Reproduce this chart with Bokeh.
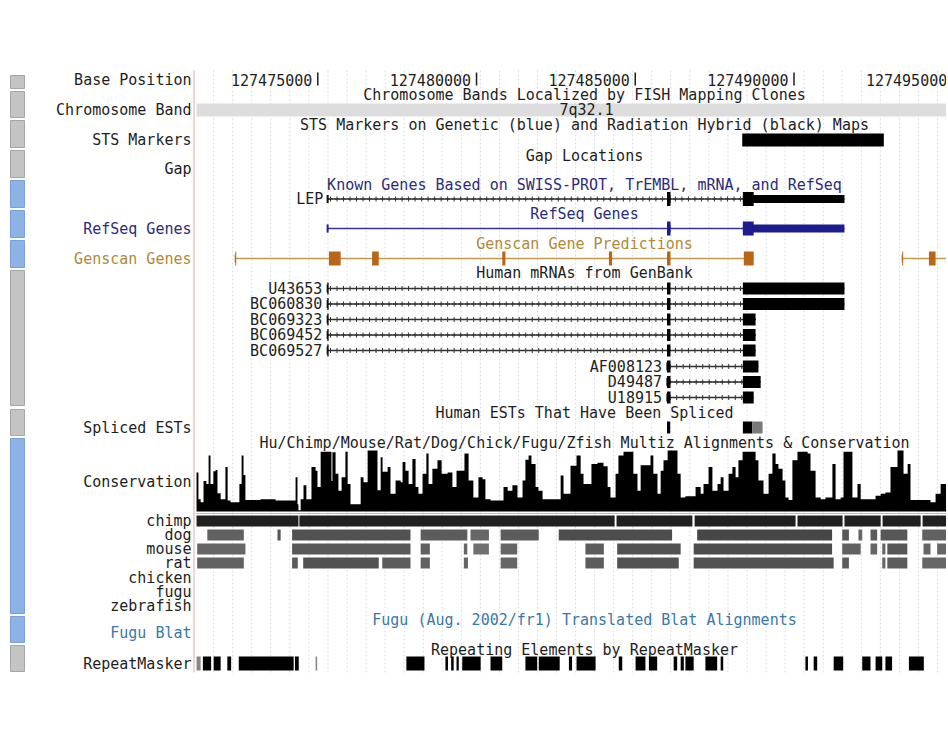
import numpy as np
from bokeh.plotting import figure
from bokeh.models import Range1d
from bokeh.core.properties import value
from bokeh.embed import file_html
from bokeh.resources import INLINE

# ------------------------------------------------------------------ data (chr7, bp)
BASE_TICKS = [127475000, 127480000, 127485000, 127490000, 127495000]
BAND_NAME = "7q32.1"
BAND_START, BAND_END = 127440000, 127500000
STS_STARTS = [127488370]
STS_ENDS = [127492830]

LEP_EXON_STARTS = [127475300, 127486000, 127488390]
LEP_EXON_ENDS = [127475340, 127486110, 127491590]
LEP_CDS = [127486000, 127488730]

REFSEQ_EXON_STARTS = [127475300, 127486000, 127488390]
REFSEQ_EXON_ENDS = [127475340, 127486110, 127491590]
REFSEQ_CDS = [127486000, 127488730]

GENSCAN1_STARTS = [127472400, 127475350, 127476710, 127480810, 127484170, 127486000, 127488420]
GENSCAN1_ENDS = [127472430, 127475720, 127476920, 127480910, 127484270, 127486110, 127488730]
GENSCAN2_STARTS = [127493410, 127494250]
GENSCAN2_ENDS = [127493440, 127494460]
GENSCAN2_TX_END = 127496500

MRNA_NAMES = ["U43653", "BC060830", "BC069323", "BC069452", "BC069527",
              "AF008123", "D49487", "U18915"]
MRNA_STARTS = [
    [127475300, 127486000, 127488390],
    [127475300, 127486000, 127488390],
    [127475300, 127486000, 127488390],
    [127475300, 127486000, 127488390],
    [127475300, 127486000, 127488390],
    [127486000, 127488390],
    [127486000, 127488390],
    [127486000, 127488390],
]
MRNA_ENDS = [
    [127475340, 127486110, 127491590],
    [127475340, 127486110, 127491590],
    [127475340, 127486110, 127488790],
    [127475340, 127486110, 127488790],
    [127475340, 127486110, 127488790],
    [127486110, 127488880],
    [127486110, 127488950],
    [127486110, 127488730],
]

EST_STARTS = [127486000, 127488390, 127488690]
EST_ENDS = [127486100, 127488690, 127489010]
EST_SHADE = ["#000000", "#000000", "#7a7a7a"]

# conservation (variable-step, score 0..1)
CONS_POS = [
    127471180, 127471240, 127471310, 127471400, 127471490, 127471560, 127471620, 127471710,
    127471780, 127471840, 127471940, 127472090, 127472160, 127472250, 127472530, 127472600,
    127472660, 127472720, 127473200, 127473670, 127474300, 127474360, 127474390, 127474460,
    127474550, 127474640, 127474800, 127474930, 127474990, 127475090, 127475430, 127475460,
    127475560, 127475650, 127475750, 127475870, 127475940, 127476030, 127476350, 127476440,
    127476570, 127476880, 127476980, 127477040, 127477200, 127477290, 127477450, 127477610,
    127477670, 127477760, 127477860, 127477980, 127478080, 127478170, 127478300, 127478420,
    127478490, 127478610, 127478770, 127478900, 127479090, 127479240, 127479370, 127479620,
    127479750, 127479900, 127480060, 127480190, 127480280, 127480440, 127480850, 127480980,
    127481130, 127481290, 127481450, 127481540, 127481640, 127481730, 127481860, 127481950,
    127482080, 127482650, 127482740, 127482960, 127483150, 127483280, 127483370, 127483620,
    127483810, 127484000, 127484130, 127484220, 127484380, 127484470, 127484630, 127484940,
    127485070, 127485170, 127485480, 127485570, 127485700, 127485800, 127485890, 127486020,
    127486330, 127486430, 127486580, 127486900, 127487060, 127487150, 127487310, 127487430,
    127487590, 127487690, 127487780, 127487940, 127488060, 127488160, 127488250, 127488380,
    127488790, 127488880, 127489040, 127489200, 127489320, 127489420, 127489510, 127489640,
    127489730, 127489830, 127489950, 127490110, 127490430, 127490520, 127490680, 127490840,
    127490990, 127491210, 127491310, 127491470, 127491560, 127491840, 127492000, 127492100,
    127492570, 127492730, 127492880, 127493040, 127493260, 127493450, 127493580, 127493670,
    127494300, 127494460, 127494620,
]
CONS_SCORE = [
    0.64, 0.20, 0.15, 0.50, 0.45, 0.92, 0.45, 0.66,
    0.68, 0.30, 0.20, 0.73, 0.18, 0.15, 0.45, 0.92,
    0.60, 0.19, 0.20, 0.18, 0.56, 0.12, 0.02, 0.20,
    0.43, 0.20, 0.73, 0.67, 0.40, 0.98, 0.50, 0.97,
    0.62, 0.34, 0.56, 0.98, 0.45, 0.12, 0.56, 0.48,
    1.00, 0.35, 0.89, 0.65, 0.73, 0.29, 0.51, 0.48,
    0.81, 0.67, 0.45, 0.86, 0.40, 0.29, 0.62, 0.95,
    0.45, 0.70, 0.84, 0.62, 0.64, 0.40, 0.67, 0.95,
    0.51, 0.23, 0.56, 0.53, 0.20, 0.18, 0.40, 0.34,
    0.43, 0.23, 0.51, 0.85, 0.92, 0.78, 0.40, 0.34,
    0.20, 0.59, 0.29, 0.75, 0.92, 0.62, 0.45, 0.78,
    0.80, 0.74, 0.40, 0.23, 0.62, 0.92, 0.98, 0.62,
    0.34, 0.76, 0.92, 0.62, 0.29, 0.67, 0.84, 1.00,
    0.62, 0.23, 0.25, 0.40, 0.29, 0.45, 0.73, 0.34,
    0.45, 0.56, 0.34, 0.62, 0.73, 0.56, 0.84, 0.98,
    0.84, 0.51, 0.29, 0.62, 0.95, 0.78, 0.70, 0.51,
    0.23, 0.19, 0.84, 0.98, 0.95, 0.67, 0.23, 0.20,
    0.23, 0.78, 0.20, 0.23, 0.98, 0.23, 0.45, 0.20,
    0.26, 0.29, 0.31, 0.73, 1.00, 0.62, 0.78, 0.19,
    0.15, 0.29, 0.45,
]
CONS_END = 127494870

CHIMP_STARTS = [127471180, 127474420, 127484410, 127486870, 127490110, 127491590, 127492790, 127494050]
CHIMP_ENDS = [127474390, 127484350, 127486800, 127490050, 127491530, 127492730, 127493990, 127495000]

DOG_STARTS = [127471520, 127473730, 127474190, 127478240, 127479810, 127480760, 127482590,
              127486950, 127491520, 127492030, 127492410, 127492730, 127494040]
DOG_ENDS = [127472670, 127473830, 127477920, 127479710, 127480390, 127481960, 127486160,
            127491200, 127491730, 127492150, 127492620, 127493570, 127495000]
DOG_SHADE = [0.62, 0.66, 0.68, 0.64, 0.60, 0.64, 0.70, 0.72, 0.66, 0.60, 0.64, 0.66, 0.62]

MOUSE_STARTS = [127471200, 127474190, 127478240, 127479600, 127479900, 127480760, 127483430,
                127484430, 127486840, 127491520, 127492410, 127492780, 127492940, 127494080, 127494510]
MOUSE_ENDS = [127472720, 127477920, 127478530, 127479710, 127480390, 127481280, 127484010,
              127486430, 127491200, 127492100, 127492620, 127492880, 127493570, 127494300, 127495000]
MOUSE_SHADE = [0.60, 0.65, 0.62, 0.60, 0.56, 0.60, 0.64, 0.68, 0.70, 0.62, 0.60, 0.60, 0.66, 0.60, 0.60]

RAT_STARTS = [127471200, 127474190, 127474540, 127477030, 127478240, 127479600, 127480760,
              127483430, 127484430, 127486840, 127491520, 127492780, 127492940, 127494040]
RAT_ENDS = [127472670, 127474370, 127476920, 127477920, 127478530, 127479730, 127481280,
            127484010, 127486370, 127491250, 127491730, 127492880, 127493570, 127495000]
RAT_SHADE = [0.62, 0.64, 0.68, 0.64, 0.62, 0.60, 0.60, 0.64, 0.68, 0.68, 0.64, 0.60, 0.64, 0.60]

RMSK_STARTS = [127471180, 127471380, 127471720, 127472150, 127472510, 127474280, 127474930,
               127477790, 127479020, 127479200, 127479370, 127479550, 127480440, 127481540,
               127481960, 127482910, 127483150, 127484480, 127485010, 127485430, 127486210,
               127486430, 127486580, 127487210, 127487690, 127490360, 127490620, 127491250,
               127492150, 127492570, 127492880, 127493620]
RMSK_ENDS = [127471310, 127471640, 127471940, 127472270, 127474240, 127474400, 127474980,
             127478360, 127479100, 127479280, 127479440, 127480130, 127480810, 127481910,
             127482620, 127483010, 127483750, 127484590, 127485320, 127485690, 127486320,
             127486530, 127486840, 127487580, 127487770, 127490440, 127490730, 127491550,
             127492410, 127492780, 127493090, 127494090]
RMSK_GRAY = [127471180, 127474930]

TRACK_LABELS = ["Base Position", "Chromosome Band", "STS Markers", "Gap", "RefSeq Genes",
                "Genscan Genes", "Spliced ESTs", "Conservation", "Fugu Blat", "RepeatMasker"]
SPECIES = ["chimp", "dog", "mouse", "rat", "chicken", "fugu", "zebrafish"]
TITLES = [
    "Chromosome Bands Localized by FISH Mapping Clones",
    "STS Markers on Genetic (blue) and Radiation Hybrid (black) Maps",
    "Gap Locations",
    "Known Genes Based on SWISS-PROT, TrEMBL, mRNA, and RefSeq",
    "RefSeq Genes",
    "Genscan Gene Predictions",
    "Human mRNAs from GenBank",
    "Human ESTs That Have Been Spliced",
    "Hu/Chimp/Mouse/Rat/Dog/Chick/Fugu/Zfish Multiz Alignments & Conservation",
    "Fugu (Aug. 2002/fr1) Translated Blat Alignments",
    "Repeating Elements by RepeatMasker",
]

# ------------------------------------------------------------------ layout (page pixels)
W, H = 946, 740
BP_PER_PX = 31.5
ORIGIN = 127475000 - 317.3 * BP_PER_PX


def gx(px):
    return ORIGIN + px * BP_PER_PX


DATA_LEFT = gx(196)
TXT = "#1e1e1e"
NAVY = "#2c2c7c"
GOLD = "#b08a36"
STEEL = "#3a78a8"
FONT = value("DejaVu Sans Mono")
FS = "15px"

TICK_Y = 79
TITLE_Y = [94, 124, 155, 184, 213.5, 243, 272.5, 412, 442, 619, 649]
TITLE_COL = [TXT, TXT, TXT, NAVY, NAVY, GOLD, TXT, TXT, TXT, STEEL, TXT]
LABEL_Y = [79, 109.5, 139.5, 168, 228, 258, 427, 481.5, 632.5, 663]
LABEL_COL = [TXT, TXT, TXT, TXT, NAVY, GOLD, TXT, TXT, STEEL, TXT]
SPECIES_Y = [520.5, 534.5, 548.5, 562.5, 577, 591, 605]
LEP_Y, REFSEQ_Y, GENSCAN_Y = 198.5, 228, 258
MRNA_Y = [288, 303.5, 319, 334.5, 350, 366, 381.5, 397]
EST_Y = 427
CONS_BASE, CONS_H = 511, 61
BUTTONS = [(75, 88, "g"), (91, 117, "g"), (120, 147, "g"), (150, 177, "g"), (180, 207, "b"),
           (210, 237, "b"), (240, 267, "b"), (270, 405, "g"), (409, 435, "g"), (438, 613, "b"),
           (616, 642, "b"), (645, 671, "g")]

p = figure(width=W, height=H, output_backend="svg", toolbar_location=None,
           x_range=Range1d(gx(0), gx(W)), y_range=Range1d(H, 0),
           x_axis_location=None, y_axis_location=None, min_border=0,
           outline_line_color=None, background_fill_color="white",
           border_fill_color="white")
p.grid.visible = False
p.extra_y_ranges = {"cons": Range1d((CONS_BASE - H) / CONS_H, CONS_BASE / CONS_H)}


def text(x, y, s, align="center", color=TXT, size=FS):
    p.text(x=[x], y=[y], text=[s], text_align=align, text_baseline="middle",
           text_font=FONT, text_font_size=size, text_color=color)


# guidelines + left border
gl = np.arange(127471720, 127496000, 600)
p.segment(x0=gl, y0=70, x1=gl, y1=672, line_color="#dadce6", line_width=1, line_dash="2 2")
p.segment(x0=[gx(193.5)], y0=[70], x1=[gx(193.5)], y1=[672], line_color="#e2aaaa", line_width=1)

# side buttons
for y0, y1, c in BUTTONS:
    p.quad(left=gx(10), right=gx(24), bottom=y1, top=y0,
           fill_color="#c4c4c4" if c == "g" else "#8db2e6",
           line_color="#a6a6a6" if c == "g" else "#7a9fd6", line_width=1)

# chromosome band (clipped to the data area)
p.quad(left=[max(BAND_START, DATA_LEFT)], right=[BAND_END], top=103, bottom=116,
       fill_color="#dddddd", line_color=None)

# labels
for s, y, c in zip(TRACK_LABELS, LABEL_Y, LABEL_COL):
    text(gx(191), y, s, "right", c)
for s, y in zip(SPECIES, SPECIES_Y):
    text(gx(191), y, s, "right", TXT)
for s, y, c in zip(TITLES, TITLE_Y, TITLE_COL):
    text(gx(584), y, s, "center", c)
text(gx(586), 109.5, BAND_NAME, "center", TXT)

# base position
for t in BASE_TICKS:
    text(t - 5.5 * BP_PER_PX, TICK_Y, f"{t}", "right", TXT)
p.segment(x0=BASE_TICKS, y0=TICK_Y - 7, x1=BASE_TICKS, y1=TICK_Y + 6, line_color=TXT,
          line_width=1.5)

# STS
p.quad(left=STS_STARTS, right=STS_ENDS, top=133, bottom=146, fill_color="black", line_color=None)


def gene(starts, ends, cds, y, color, line_color, arrows=True, tall=14, short=7,
         tx=None):
    s0 = min(starts) if tx is None else tx[0]
    e0 = max(ends) if tx is None else tx[1]
    p.segment(x0=[s0], y0=[y], x1=[e0], y1=[y], line_color=line_color, line_width=1.5)
    if arrows:
        xs = np.arange(s0 + 100, e0, 205)
        p.scatter(xs, [y] * len(xs), marker="cross", size=5, line_color=line_color,
                  line_width=1)
    p.segment(x0=[s0], y0=[y - 4], x1=[s0], y1=[y + 4], line_color=line_color, line_width=1.5)
    for s, e in zip(starts, ends):
        if cds is None:
            p.quad(left=[s], right=[e], top=y - tall / 2, bottom=y + tall / 2,
                   fill_color=color, line_color=None)
            continue
        cs, ce = max(s, cds[0]), min(e, cds[1])
        p.quad(left=[s], right=[e], top=y - short / 2, bottom=y + short / 2,
               fill_color=color, line_color=None)
        if cs < ce:
            p.quad(left=[cs], right=[ce], top=y - tall / 2, bottom=y + tall / 2,
                   fill_color=color, line_color=None)


gene(LEP_EXON_STARTS, LEP_EXON_ENDS, LEP_CDS, LEP_Y, "black", "#333333", tall=14, short=8)
text(LEP_EXON_STARTS[0] - 4 * BP_PER_PX, LEP_Y, "LEP", "right", TXT)
gene(REFSEQ_EXON_STARTS, REFSEQ_EXON_ENDS, REFSEQ_CDS, REFSEQ_Y, "#1c1c8e", "#34349a",
     arrows=False, tall=14, short=8)
gene(GENSCAN1_STARTS, GENSCAN1_ENDS, None, GENSCAN_Y, "#b8671a", "#c49a50", arrows=False,
     tall=14)
gene(GENSCAN2_STARTS, GENSCAN2_ENDS, None, GENSCAN_Y, "#b8671a", "#c49a50", arrows=False,
     tall=14, tx=(GENSCAN2_STARTS[0], GENSCAN2_TX_END))

for name, st, en, y in zip(MRNA_NAMES, MRNA_STARTS, MRNA_ENDS, MRNA_Y):
    gene(st, en, None, y, "black", "#333333", tall=12)
    text(st[0] - 5 * BP_PER_PX, y, name, "right", TXT)

# spliced ESTs
p.quad(left=EST_STARTS, right=EST_ENDS, top=EST_Y - 6, bottom=EST_Y + 6,
       fill_color=EST_SHADE, line_color=None)

# conservation: continuous step area, each reading held until the next
p.varea_step(x=CONS_POS + [CONS_END], y1=[0] * (len(CONS_POS) + 1),
             y2=CONS_SCORE + [CONS_SCORE[-1]], step_mode="after",
             fill_color="black", y_range_name="cons")
p.segment(x0=[CONS_POS[0]], y0=[513], x1=[CONS_END], y1=[513], line_color="#bbbbbb",
          line_width=1)

# pairwise alignments
p.quad(left=CHIMP_STARTS, right=CHIMP_ENDS, top=SPECIES_Y[0] - 5.5, bottom=SPECIES_Y[0] + 5.5,
       fill_color="#202020", line_color=None)


def shade(d):
    g = int(round(255 * (1 - d)))
    return "#%02x%02x%02x" % (g, g, g)


for k, (st, en, sh) in enumerate([(DOG_STARTS, DOG_ENDS, DOG_SHADE),
                                   (MOUSE_STARTS, MOUSE_ENDS, MOUSE_SHADE),
                                   (RAT_STARTS, RAT_ENDS, RAT_SHADE)]):
    y = SPECIES_Y[k + 1]
    p.quad(left=st, right=en, top=y - 5.5, bottom=y + 5.5,
           fill_color=[shade(d) for d in sh], line_color=None)

# repeatmasker
p.quad(left=RMSK_STARTS, right=RMSK_ENDS, top=656, bottom=670,
       fill_color=["#888888" if s in RMSK_GRAY else "black" for s in RMSK_STARTS],
       line_color=None)

open("out.html", "w").write(file_html(p, INLINE))
